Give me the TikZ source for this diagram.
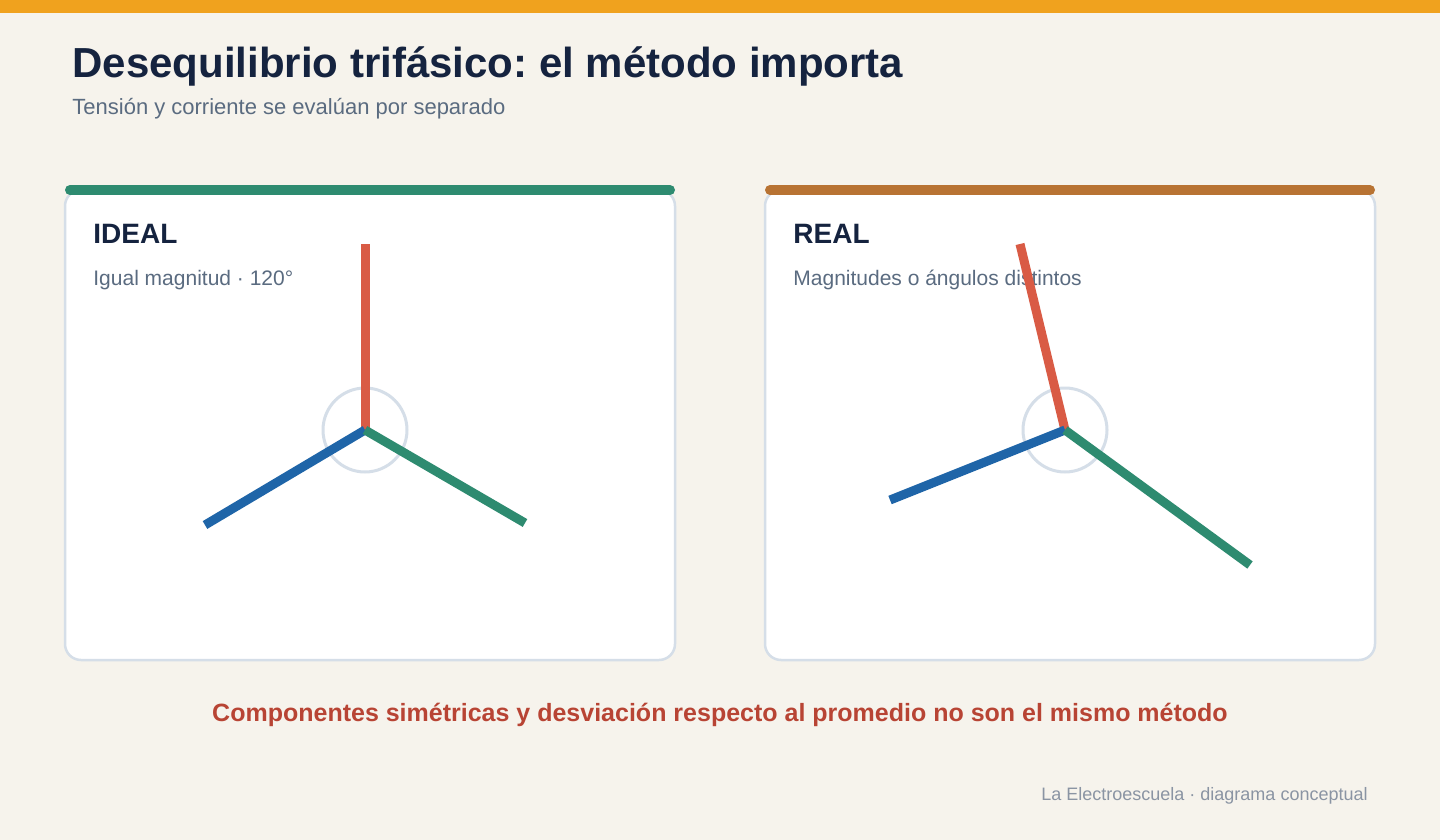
\documentclass[tikz,border=0pt]{standalone}
\usepackage{fontspec}
\setmainfont{Liberation Sans}
\usetikzlibrary{positioning}
\frenchspacing

\definecolor{paper}{HTML}{F6F3EC}
\definecolor{amber}{HTML}{F0A21E}
\definecolor{ink}{HTML}{15233F}
\definecolor{slate}{HTML}{5A6B80}
\definecolor{cardline}{HTML}{D5DEE8}
\definecolor{phaseA}{HTML}{D95B45}
\definecolor{phaseB}{HTML}{1F65A8}
\definecolor{phaseC}{HTML}{2E8B70}
\definecolor{bronze}{HTML}{B87333}
\definecolor{warn}{HTML}{B84434}
\definecolor{foot}{HTML}{8A94A3}

\tikzset{
    card/.style={draw=cardline,line width=1.25pt,fill=white,rounded corners=8pt},
    cardbar/.style={line width=5pt,line cap=round},
    cardtitle/.style={anchor=base west,inner sep=0pt,text=ink,font=\bfseries\fontsize{14}{16}\selectfont},
    cardsub/.style={anchor=base west,inner sep=0pt,text=slate,font=\fontsize{10.5}{12}\selectfont},
    hub/.style={circle,draw=cardline,line width=1.5pt,minimum size=42pt,inner sep=0pt},
    phasor/.style={line width=4.5pt}
}

\begin{document}
\begin{tikzpicture}[x=0.5pt,y=-0.5pt]
    \fill[paper] (0,0) rectangle (1440,840);
    \useasboundingbox (0,0) rectangle (1440,840);
    \fill[amber] (0,0) rectangle (1440,13);

    %heading
    \node[anchor=base west,inner sep=0pt,text=ink,font=\bfseries\fontsize{21}{25}\selectfont] (title) at (72,78) {Desequilibrio trifásico: el método importa};
    \node[anchor=base west,inner sep=0pt,text=slate,font=\fontsize{11}{13}\selectfont] (subtitle) at (72,115) {Tensión y corriente se evalúan por separado};

    %cards
    \draw[card] (65,190) rectangle (675,660);
    \draw[card] (765,190) rectangle (1375,660);
    \draw[cardbar,phaseC] (70,190) -- (670,190);
    \draw[cardbar,bronze] (770,190) -- (1370,190);

    \node[cardtitle] (idealtitle) at (93,243) {IDEAL};
    \node[cardsub] (idealsub) at (93,285) {Igual magnitud · 120°};
    \node[cardtitle] (realtitle) at (793,243) {REAL};
    \node[cardsub] (realsub) at (793,285) {Magnitudes o ángulos distintos};

    %ideal phasors
    \node[hub] (idealhub) at (365,430) {};
    \coordinate (idealA) at (365,244);
    \coordinate (idealB) at (205,525);
    \coordinate (idealC) at (525,523);
    \draw[phasor,phaseA] (idealhub.center) -- (idealA);
    \draw[phasor,phaseB] (idealhub.center) -- (idealB);
    \draw[phasor,phaseC] (idealhub.center) -- (idealC);

    %real phasors
    \node[hub] (realhub) at (1065,430) {};
    \coordinate (realA) at (1020,244);
    \coordinate (realB) at (890,500);
    \coordinate (realC) at (1250,565);
    \draw[phasor,phaseA] (realhub.center) -- (realA);
    \draw[phasor,phaseB] (realhub.center) -- (realB);
    \draw[phasor,phaseC] (realhub.center) -- (realC);

    %footer
    \node[anchor=base,inner sep=0pt,text=warn,font=\bfseries\fontsize{12.5}{15}\selectfont] (note) at (720,721) {Componentes simétricas y desviación respecto al promedio no son el mismo método};
    \node[anchor=base east,inner sep=0pt,text=foot,font=\fontsize{9}{11}\selectfont] (credit) at (1368,800) {La Electroescuela · diagrama conceptual};
\end{tikzpicture}
\end{document}
